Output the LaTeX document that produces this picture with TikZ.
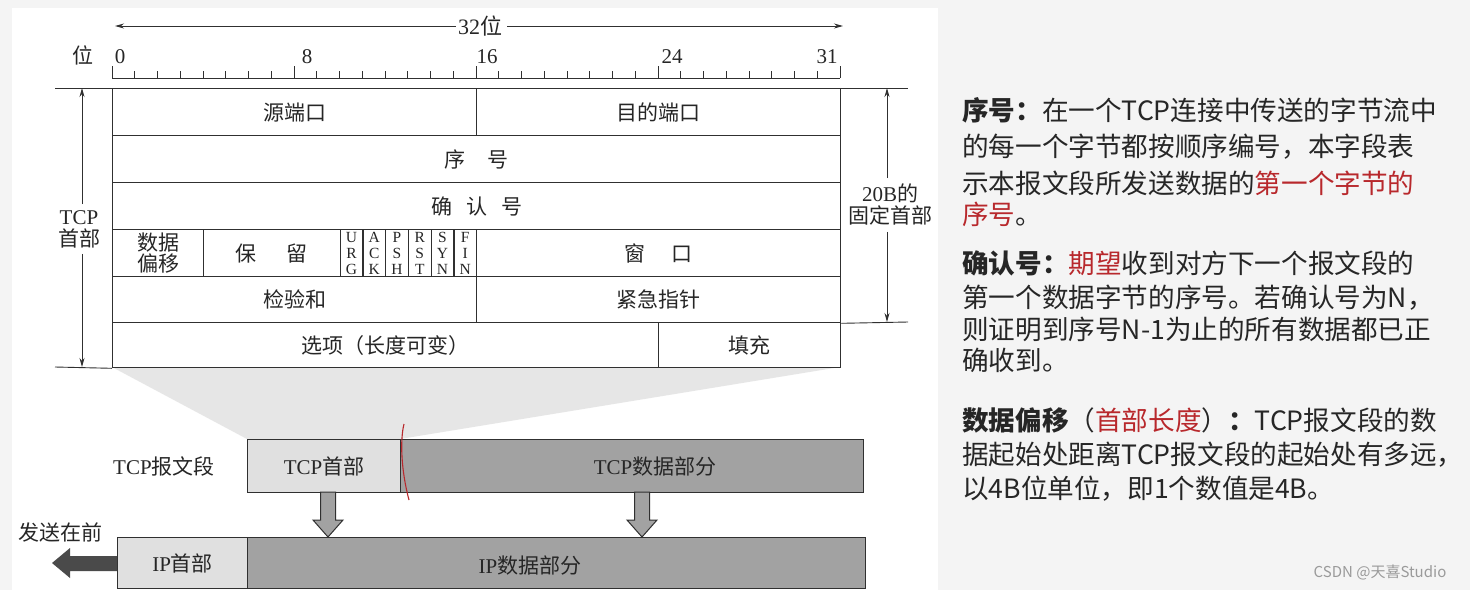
\documentclass[tikz,border=0pt]{standalone}
\usepackage{fontspec}
\setmainfont{Liberation Serif}
\newfontfamily\cjk{Noto Sans CJK SC}
\usetikzlibrary{arrows.meta,calc}
\definecolor{bg}{HTML}{F4F4F4}
\definecolor{linec}{HTML}{303030}
\definecolor{txt}{HTML}{262626}
\definecolor{lightbox}{HTML}{E0E0E0}
\definecolor{darkbox}{HTML}{A2A2A2}
\definecolor{trap}{HTML}{E6E6E6}
\definecolor{redt}{HTML}{B8282C}
\definecolor{arrowdark}{HTML}{4A4A4A}
\definecolor{wm}{HTML}{9A9A9A}
\newcommand\zh[1]{{\cjk #1}}
\newcommand\rd[1]{\textcolor{redt}{#1}}
\tikzset{
  cell/.style={draw=linec, line width=1.3pt, fill=white, inner sep=0pt, anchor=north west, text=txt},
  lbox/.style={draw=linec, line width=1.3pt, fill=lightbox, inner sep=0pt, anchor=north west, text=txt},
  dbox/.style={draw=linec, line width=1.3pt, fill=darkbox, inner sep=0pt, anchor=north west, text=txt},
  lbl/.style={inner sep=0pt, text=txt},
  dim/.style={draw=linec, line width=0.9pt, -{Stealth[length=9pt,width=5pt]}},
  ext/.style={draw=linec, line width=0.9pt},
  blockarr/.style={draw=linec, line width=1pt, fill=darkbox},
  para/.style={inner sep=0pt, anchor=west, text=txt, font=\cjk\fontsize{26.6}{30}\selectfont},
  flag/.style={cell, minimum width=22.75, minimum height=47, align=center, font=\fontsize{15.5}{16}\selectfont}
}
\begin{document}
\begin{tikzpicture}[x=1pt,y=-1pt,font=\fontsize{21}{22}\selectfont]
\useasboundingbox (0,0) rectangle (1470,590);
\fill[bg] (0,0) rectangle (1470,590);
\fill[white] (12,8) rectangle (938,590);

% zoom trapezoid
\fill[trap] (112,367) -- (840,367) -- (400,439) -- (247,439) -- cycle;

% 32 bit arrow
\node[lbl, font=\fontsize{22}{22}\selectfont] (w32) at (480,26) {32\zh{位}};
\coordinate (w32l) at (115,26);
\coordinate (w32r) at (843,26);
\draw[dim] (w32.west) ++(-2,0) -- (w32l);
\draw[dim] (w32.east) ++(5,0) -- (w32r);

% ruler
\node[lbl] (wei) at (83,55) {\zh{位}};
\node[lbl] (n0) at (120,57) {0};
\node[lbl] (n8) at (307,57) {8};
\node[lbl] (n16) at (487,57) {16};
\node[lbl] (n24) at (672,57) {24};
\node[lbl] (n31) at (827,57) {31};
\draw[ext] (112,78) -- (840,78);
\foreach \i in {0,...,32}{
  \pgfmathsetmacro{\xx}{112+22.75*\i}
  \pgfmathtruncatemacro{\mm}{mod(\i,8)}
  \ifnum\mm=0
    \draw[ext] (\xx,66) -- (\xx,78);
  \else
    \draw[ext] (\xx,71) -- (\xx,78);
  \fi
}

% table
\node[cell, minimum width=364, minimum height=47] (srcport) at (112,88) {\zh{源端口}};
\node[cell, minimum width=364, minimum height=47] (dstport) at (476,88) {\zh{目的端口}};
\node[cell, minimum width=728, minimum height=47] (seq) at (112,135) {\zh{序\hspace{22pt}号}};
\node[cell, minimum width=728, minimum height=47] (ack) at (112,182) {\zh{确\hspace{14pt}认\hspace{14pt}号}};
\node[cell, minimum width=91, minimum height=47, align=center, font=\fontsize{21}{21}\selectfont] (offset) at (112,229) {\zh{数据}\\\zh{偏移}};
\node[cell, minimum width=136.5, minimum height=47] (resv) at (203,229) {\zh{保\hspace{30pt}留}};
\foreach \f [count=\i from 0] in {{U\\R\\G},{A\\C\\K},{P\\S\\H},{R\\S\\T},{S\\Y\\N},{F\\I\\N}}{
  \node[flag] (flag\i) at ({339.5+22.75*\i},229) {\f};
}
\node[cell, minimum width=364, minimum height=47] (window) at (476,229) {\zh{窗\hspace{26pt}口}};
\node[cell, minimum width=364, minimum height=46] (cksum) at (112,276) {\zh{检验和}};
\node[cell, minimum width=364, minimum height=46] (urgent) at (476,276) {\zh{紧急指针}};
\node[cell, minimum width=546, minimum height=45] (options) at (112,322) {\zh{选项（长度可变）}};
\node[cell, minimum width=182, minimum height=45] (padding) at (658,322) {\zh{填充}};

% dimension lines
\draw[ext] (55,88) -- (srcport.north west);
\draw[ext] (55,367) -- (options.south west);
\draw[ext] (dstport.north east) -- (908,88);
\draw[ext] (urgent.south east) -- (908,322);
\node[lbl, align=center] (tcphl) at (79,229) {TCP\\\zh{首部}};
\coordinate (lt) at (82,88);
\coordinate (lb) at (82,367);
\draw[dim] (tcphl.north -| lt) ++(0,-6) -- (lt);
\draw[dim] (tcphl.south -| lb) ++(0,6) -- (lb);
\node[lbl, align=center] (fixl) at (890,205) {20B\zh{的}\\\zh{固定首部}};
\coordinate (rt) at (887,88);
\coordinate (rb) at (887,322);
\draw[dim] (fixl.north -| rt) ++(0,-6) -- (rt);
\draw[dim] (fixl.south -| rb) ++(0,6) -- (rb);

% TCP segment
\node[lbl] (seglbl) at (164,466) {TCP\zh{报文段}};
\node[lbox, minimum width=153, minimum height=53] (tcphdr) at (247,439) {TCP\zh{首部}};
\node[dbox, minimum width=463, minimum height=53] (tcpdata) at (400,439) {};
\node[lbl] (tcpdatal) at (655,466) {TCP\zh{数据部分}};

% IP datagram
\node[lbox, minimum width=130, minimum height=51] (iphdr) at (117,537) {IP\zh{首部}};
\node[dbox, minimum width=618, minimum height=51] (ipdata) at (247,537) {};
\node[lbl] (ipdatal) at (530,565) {IP\zh{数据部分}};

% block arrows
\draw[blockarr] (320.5,492) -- (335.5,492) -- (335.5,520) -- (343,520) -- (328,537) -- (313,520) -- (320.5,520) -- cycle;
\draw[blockarr] (634.5,492) -- (649.5,492) -- (649.5,520) -- (657,520) -- (642,537) -- (627,520) -- (634.5,520) -- cycle;

% send-first arrow
\node[lbl] (sendfirst) at (60,532) {\zh{发送在前}};
\fill[arrowdark] (iphdr.west |- 0,556) -- (70,556) -- (70,548) -- (52,563) -- (70,578) -- (70,571) -- (iphdr.west |- 0,571) -- cycle;

% red annotation
\draw[redt, line width=1.1pt] (404,424) .. controls (400,440) and (401,470) .. (409,500);

% right text
\node[para] (p1a) at (962,110) {{\bfseries 序号：}在一个TCP连接中传送的字节流中};
\node[para] (p1b) at (962,147) {的每一个字节都按顺序编号，本字段表};
\node[para] (p1c) at (962,183) {示本报文段所发送数据的\rd{第一个字节的}};
\node[para] (p1d) at (962,214) {\rd{序号}。};
\node[para] (p2a) at (962,263) {{\bfseries 确认号：}\rd{期望}收到对方下一个报文段的};
\node[para] (p2b) at (962,298) {第一个数据字节的序号。若确认号为N，};
\node[para] (p2c) at (962,329) {则证明到序号N-1为止的所有数据都已正};
\node[para] (p2d) at (962,360) {确收到。};
\node[para] (p3a) at (962,420) {{\bfseries 数据偏移}（\rd{首部长度}）{\bfseries ：}TCP报文段的数};
\node[para] (p3b) at (962,455) {据起始处距离TCP报文段的起始处有多远，};
\node[para] (p3c) at (962,489) {以4B位单位，即1个数值是4B。};
\node[inner sep=0pt, text=wm, font=\cjk\fontsize{15}{18}\selectfont] (wmark) at (1380,572) {CSDN @天喜Studio};
\end{tikzpicture}
\end{document}
